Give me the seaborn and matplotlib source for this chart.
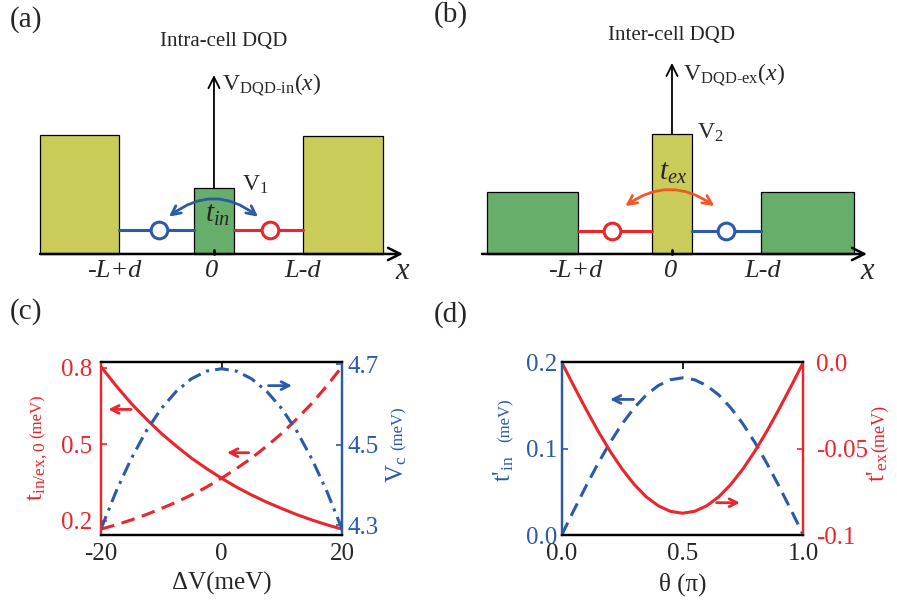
import numpy as np
import pandas as pd
import matplotlib
matplotlib.use("Agg")
import matplotlib.pyplot as plt
from matplotlib.patches import FancyArrowPatch
import seaborn as sns

RED = '#e8262b'
BLUE = '#2a5aa8'
ORANGE = '#f0582a'
YELLOW = '#c9cc58'
GREEN = '#67ae6a'

# ---- panel (c): tunnelling vs detuning
dv = [-20, -17.5, -15, -12.5, -10, -7.5, -5, -2.5, 0,
      2.5, 5, 7.5, 10, 12.5, 15, 17.5, 20]
t_in0 = [0.805, 0.730, 0.661, 0.600, 0.543, 0.493, 0.446, 0.405, 0.367,
         0.332, 0.301, 0.273, 0.248, 0.224, 0.203, 0.184, 0.167]
t_ex0 = [0.167, 0.184, 0.203, 0.224, 0.248, 0.273, 0.301, 0.332, 0.367,
         0.405, 0.446, 0.493, 0.543, 0.600, 0.661, 0.730, 0.805]
v_c = [4.291, 4.384, 4.465, 4.534, 4.590, 4.633, 4.664, 4.683, 4.689,
       4.683, 4.664, 4.633, 4.590, 4.534, 4.465, 4.384, 4.291]

# ---- panel (d): corrections vs theta
theta = [0.0, 0.05, 0.1, 0.15, 0.2, 0.25, 0.3, 0.35, 0.4, 0.45, 0.5,
         0.55, 0.6, 0.65, 0.7, 0.75, 0.8, 0.85, 0.9, 0.95, 1.0]
tp_in = [0.0, 0.0285, 0.0562, 0.0826, 0.107, 0.1287, 0.1472, 0.1622, 0.1731, 0.1798, 0.182,
         0.1798, 0.1731, 0.1622, 0.1472, 0.1287, 0.107, 0.0826, 0.0562, 0.0285, 0.0]
tp_ex = [0.0, -0.0137, -0.0270, -0.0397, -0.0514, -0.0618, -0.0707, -0.0779, -0.0831, -0.0863, -0.0874,
         -0.0863, -0.0831, -0.0779, -0.0707, -0.0618, -0.0514, -0.0397, -0.0270, -0.0137, 0.0]

# ---- schematics, x in units of (L-d)
a_left = [-1.955, -0.225, 1.0]
a_right = [-1.067, 0.225, 1.9]
a_height = [1.337, 0.742, 1.326]
a_color = [YELLOW, GREEN, YELLOW]
a_level = 0.27
a_seg = [(-1.067, -0.225), (0.225, 1.0)]
a_dot = [-0.618, 0.629]
a_dot_col = [BLUE, RED]

b_left = [-2.079, -0.225, 1.0]
b_right = [-1.056, 0.225, 2.045]
b_height = [0.697, 1.348, 0.697]
b_color = [GREEN, YELLOW, GREEN]
b_level = 0.258
b_seg = [(-1.056, -0.225), (0.225, 1.0)]
b_dot = [-0.674, 0.607]
b_dot_col = [RED, BLUE]

x_ticks_schem = ['-L+d', '0', 'L-d']

sns.set_style("white")
plt.rcParams['font.family'] = ['Liberation Serif', 'DejaVu Serif']
plt.rcParams['mathtext.fontset'] = 'custom'
plt.rcParams['mathtext.rm'] = 'Liberation Serif'
plt.rcParams['mathtext.it'] = 'Liberation Serif:italic'
plt.rcParams['mathtext.bf'] = 'Liberation Serif:bold'
plt.rcParams['axes.unicode_minus'] = False

W, H = 897, 603
fig = plt.figure(figsize=(W / 100, H / 100), dpi=100)


def fpos(x, y):
    return x / W, 1 - y / H


def schematic(ax, left, right, height, color, level, seg, dots, dot_cols,
              axis_ext, arrow_top, tick_x):
    ax.set_xlim(*axis_ext[0])
    ax.set_ylim(-0.551, 2.82)
    ax.axis('off')
    widths = [r - l for l, r in zip(left, right)]
    ax.bar(left, height, width=widths, align='edge', color=color,
           edgecolor='black', linewidth=0.9, zorder=3)
    # axes arrows
    ax.annotate('', xy=(axis_ext[1][1], 0), xytext=(axis_ext[1][0], 0),
                arrowprops=dict(arrowstyle='->', lw=1.8, color='black',
                                mutation_scale=22, shrinkA=0, shrinkB=0), zorder=4)
    ax.annotate('', xy=(0, arrow_top), xytext=(0, 0),
                arrowprops=dict(arrowstyle='->', lw=1.3, color='black',
                                mutation_scale=20, shrinkA=0, shrinkB=0), zorder=1)
    ax.plot([0, 0], [0, 0.04], color='black', lw=2, zorder=4)
    for (x0, x1), xd, c in zip(seg, dots, dot_cols):
        ax.plot([x0, x1], [level, level], color=c, lw=2.2, zorder=4)
        ax.plot([xd], [level], 'o', ms=12, mfc='white', mec=c, mew=2.2, zorder=5)
    for xt, lab in zip(tick_x, x_ticks_schem):
        ax.text(xt, -0.19, lab, ha='center', va='center', fontsize=19, fontstyle='italic')


# panel (a)
ax_a = fig.add_axes([0, 300 / H, 450 / W, 300 / H])
schematic(ax_a, a_left, a_right, a_height, a_color, a_level, a_seg, a_dot, a_dot_col,
          [(-2.404, 2.652), (-1.955, 2.124)], 2.01, [-1.12, -0.03, 1.0])
ax_a.text(2.11, -0.2, 'x', ha='center', va='center', fontsize=22, fontstyle='italic')
ax_a.text(0.11, 2.39, 'Intra-cell DQD', ha='center', va='center', fontsize=15)
ax_a.text(0.09, 1.90, r'V$_{\rm DQD\text{-}in}$($x$)', ha='left', va='center', fontsize=17)
ax_a.text(0.32, 0.78, r'V$_{\rm 1}$', ha='left', va='center', fontsize=17)
ax_a.text(0.04, 0.44, r'$t_{in}$', ha='center', va='center', fontsize=21, zorder=6)
ax_a.add_patch(FancyArrowPatch((-0.53, 0.40), (0.52, 0.40), connectionstyle='arc3,rad=-0.4',
                               arrowstyle='<->', mutation_scale=16, lw=2, color=BLUE, zorder=6))

# panel (b)
ax_b = fig.add_axes([450 / W, 300 / H, 447 / W, 300 / H])
schematic(ax_b, b_left, b_right, b_height, b_color, b_level, b_seg, b_dot, b_dot_col,
          [(-2.494, 2.528), (-2.135, 2.191)], 2.146, [-1.09, -0.02, 1.02])
ax_b.text(2.19, -0.2, 'x', ha='center', va='center', fontsize=22, fontstyle='italic')
ax_b.text(0.0, 2.45, 'Inter-cell DQD', ha='center', va='center', fontsize=15)
ax_b.text(0.12, 2.01, r'V$_{\rm DQD\text{-}ex}$($x$)', ha='left', va='center', fontsize=17)
ax_b.text(0.28, 1.36, r'V$_{\rm 2}$', ha='left', va='center', fontsize=17)
ax_b.text(0.01, 0.91, r'$t_{ex}$', ha='center', va='center', fontsize=21, zorder=6)
ax_b.add_patch(FancyArrowPatch((-0.55, 0.52), (0.50, 0.52), connectionstyle='arc3,rad=-0.37',
                               arrowstyle='<->', mutation_scale=16, lw=2, color=ORANGE, zorder=6))


def frame(ax, left_col, right_col):
    for side in ['top', 'bottom', 'left', 'right']:
        ax.spines[side].set_visible(True)
        ax.spines[side].set_linewidth(1.6)
        ax.spines[side].set_color('black')
    ax.spines['left'].set_color(left_col)
    ax.spines['right'].set_color(right_col)


def arrow(ax, x0, x1, y, col):
    ax.annotate('', xy=(x1, y), xytext=(x0, y),
                arrowprops=dict(arrowstyle='->', lw=2, color=col, mutation_scale=14,
                                shrinkA=0, shrinkB=0))


# panel (c)
ax_c = fig.add_axes([101 / W, 1 - 535 / H, 241 / W, 172.7 / H])
ax_c2 = ax_c.twinx()
df_c = pd.DataFrame({'dv': dv, 't_in0': t_in0, 't_ex0': t_ex0, 'v_c': v_c})
sns.lineplot(data=df_c, x='dv', y='t_in0', ax=ax_c, color=RED, lw=2.2)
sns.lineplot(data=df_c, x='dv', y='t_ex0', ax=ax_c, color=RED, lw=2.2, linestyle=(0, (4.5, 2.5)))
sns.lineplot(data=df_c, x='dv', y='v_c', ax=ax_c2, color=BLUE, lw=2.2, linestyle=(0, (4.5, 2, 1, 2)))
ax_c.set_xlim(-20, 20)
ax_c.set_ylim(0.144, 0.822)
ax_c2.set_ylim(4.276, 4.705)
ax_c.set_xticks([-20, 0, 20])
ax_c.set_yticks([0.2, 0.5, 0.8])
ax_c.set_yticklabels(['0.2', '0.5', '0.8'])
ax_c2.set_yticks([4.3, 4.5, 4.7])
ax_c2.set_yticklabels(['4.3', '4.5', '4.7'])
ax_c.set_xlabel('ΔV(meV)', fontsize=18, labelpad=5)
ax_c.set_ylabel('')
ax_c2.set_ylabel('')
ax_c.tick_params(axis='x', direction='in', length=5, width=1.4, labelsize=18, pad=6, top=True)
ax_c.tick_params(axis='y', direction='in', length=4, width=1.2, labelsize=18, pad=6,
                 colors=RED, labelcolor=RED)
ax_c2.tick_params(axis='y', direction='in', length=4, width=1.2, labelsize=18, pad=4,
                  colors=BLUE, labelcolor=BLUE)
frame(ax_c, RED, BLUE)
frame(ax_c2, RED, BLUE)
arrow(ax_c, -15.0, -18.8, 0.637, RED)
arrow(ax_c, 4.5, 0.9, 0.467, RED)
arrow(ax_c2, 7.8, 11.7, 4.647, BLUE)

# panel (d)
ax_d = fig.add_axes([561.7 / W, 1 - 535 / H, 241.6 / W, 172.7 / H])
ax_d2 = ax_d.twinx()
df_d = pd.DataFrame({'theta': theta, 'tp_in': tp_in, 'tp_ex': tp_ex})
sns.lineplot(data=df_d, x='theta', y='tp_in', ax=ax_d, color=BLUE, lw=2.2, linestyle=(0, (4.5, 2.5)))
sns.lineplot(data=df_d, x='theta', y='tp_ex', ax=ax_d2, color=RED, lw=2.2)
ax_d.set_xlim(0, 1)
ax_d.set_ylim(0, 0.2)
ax_d2.set_ylim(-0.1, 0.0)
ax_d.set_xticks([0, 0.5, 1.0])
ax_d.set_xticklabels(['0.0', '0.5', '1.0'])
ax_d.set_yticks([0, 0.1, 0.2])
ax_d.set_yticklabels(['0.0', '0.1', '0.2'])
ax_d2.set_yticks([-0.1, -0.05, 0.0])
ax_d2.set_yticklabels(['-0.1', '-0.05', '0.0'])
ax_d.set_xlabel('θ (π)', fontsize=18, labelpad=5)
ax_d.set_ylabel('')
ax_d2.set_ylabel('')
ax_d.tick_params(axis='x', direction='in', length=5, width=1.4, labelsize=18, pad=6, top=True)
ax_d.tick_params(axis='y', direction='in', length=4, width=1.2, labelsize=18, pad=3,
                 colors=BLUE, labelcolor=BLUE)
ax_d2.tick_params(axis='y', direction='in', length=4, width=1.2, labelsize=18, pad=9,
                  colors=RED, labelcolor=RED)
frame(ax_d, BLUE, RED)
frame(ax_d2, BLUE, RED)
arrow(ax_d, 0.297, 0.200, 0.157, BLUE)
arrow(ax_d2, 0.641, 0.738, -0.0813, RED)

# rotated axis labels, built in two sizes like the original
lab_kw = dict(rotation=90, rotation_mode='anchor', ha='left', va='baseline')
fig.text(*fpos(42, 501), r't$_{\rm in/ex,0}$', fontsize=18, color=RED, **lab_kw)
fig.text(*fpos(42, 438), '(meV)', fontsize=12, color=RED, **lab_kw)
fig.text(*fpos(403, 483), r'V$_{\rm c}$', fontsize=18, color=BLUE, **lab_kw)
fig.text(*fpos(403, 450), '(meV)', fontsize=12, color=BLUE, **lab_kw)
fig.text(*fpos(510, 482), r"t'$_{\rm in}$", fontsize=18, color=BLUE, **lab_kw)
fig.text(*fpos(510, 442), '(meV)', fontsize=12, color=BLUE, **lab_kw)
fig.text(*fpos(884, 482), r"t'$_{\rm ex}$", fontsize=18, color=RED, **lab_kw)
fig.text(*fpos(884, 452), '(meV)', fontsize=13, color=RED, **lab_kw)

# panel tags
for tag, (x, y) in zip(['(a)', '(b)', '(c)', '(d)'],
                       [(26, 20), (451, 15), (26, 312), (451, 315)]):
    fig.text(*fpos(x, y), tag, fontsize=21, ha='center', va='center')

fig.savefig('out.png', dpi=100)
